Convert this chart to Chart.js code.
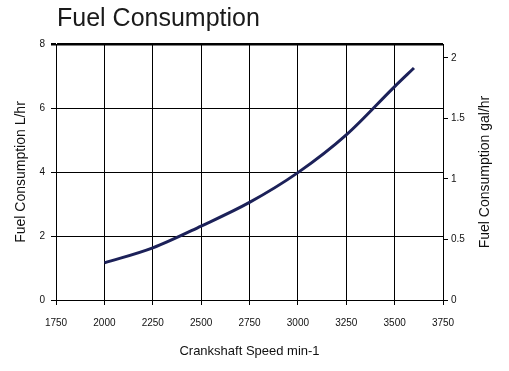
<!DOCTYPE html>
<html>
<head>
<meta charset="utf-8">
<script src="https://cdn.jsdelivr.net/npm/chart.js@4/dist/chart.umd.min.js"></script>
<style>
html, body { margin: 0; padding: 0; background: #fff; }
</style>
</head>
<body>
<canvas id="myChart" width="509" height="371"></canvas>
<script>
// values
var speed = [2000, 2250, 2500, 2750, 3000, 3250, 3500, 3600];
var litres = [1.16, 1.63, 2.31, 3.05, 3.98, 5.16, 6.67, 7.25];
var speedTicks = [1750, 2000, 2250, 2500, 2750, 3000, 3250, 3500, 3750];
var litreTicks = [0, 2, 4, 6, 8];
var gallonTicks = [0, 0.5, 1, 1.5, 2];
var litresPerGallon = 3.785;

var sans = '"Liberation Sans", Arial, sans-serif';

var points = [];
for (var i = 0; i < speed.length; i++) {
  points.push({ x: speed[i], y: litres[i] });
}

function plain(v) { return String(v); }

// big title top-left and the right axis title (reads bottom to top like the left one)
var textPlugin = {
  id: 'extraText',
  afterDraw: function (chart) {
    var c = chart.ctx;
    var a = chart.chartArea;
    c.save();
    c.font = '25px ' + sans;
    c.fillStyle = '#1a1a1a';
    c.textBaseline = 'alphabetic';
    c.textAlign = 'left';
    c.fillText('Fuel Consumption', a.left + 1, 26);

    c.font = '14px ' + sans;
    c.fillStyle = '#111';
    c.textAlign = 'center';
    c.textBaseline = 'middle';
    c.translate(chart.scales.y2.right - 24, (a.top + a.bottom) / 2);
    c.rotate(-Math.PI / 2);
    c.fillText('Fuel Consumption gal/hr', 0, 0);
    c.restore();
  }
};

var ctx = document.getElementById("myChart");
var myLineChart = new Chart(ctx, {
  type: 'line',
  data: {
    datasets: [{
      label: 'Fuel Consumption',
      data: points,
      borderColor: '#1c2159',
      borderWidth: 3,
      fill: false,
      pointRadius: 0,
      cubicInterpolationMode: 'monotone',
      yAxisID: 'y'
    }]
  },
  options: {
    responsive: false,
    animation: false,
    layout: { padding: { top: 44, right: 0, bottom: 0, left: 0 } },
    plugins: {
      legend: { display: false },
      tooltip: { enabled: false }
    },
    scales: {
      x: {
        type: 'linear',
        min: 1750,
        max: 3750,
        afterBuildTicks: function (s) { s.ticks = speedTicks.map(function (v) { return { value: v }; }); },
        afterFit: function (s) { s.height = 71; },
        grid: { color: '#000', lineWidth: 1, tickLength: 5 },
        border: { color: '#000', width: 1 },
        ticks: { color: '#111', font: { family: sans, size: 10 }, padding: 12, maxRotation: 0, callback: plain },
        title: { display: true, text: 'Crankshaft Speed min-1', color: '#111', font: { family: sans, size: 13 }, padding: { top: 0, bottom: 12 } }
      },
      y: {
        position: 'left',
        min: 0,
        max: 8,
        afterBuildTicks: function (s) { s.ticks = litreTicks.map(function (v) { return { value: v }; }); },
        afterFit: function (s) { s.width = 56; },
        grid: {
          color: '#000',
          tickLength: 5,
          lineWidth: function (c) { return c.tick && c.tick.value === 8 ? 2.5 : 1; }
        },
        border: { color: '#000', width: 1 },
        ticks: { color: '#111', font: { family: sans, size: 10 }, padding: 6, callback: plain },
        title: { display: true, text: 'Fuel Consumption L/hr', color: '#111', font: { family: sans, size: 14 }, padding: { top: 13 } }
      },
      y2: {
        position: 'right',
        min: 0,
        max: 8 / litresPerGallon,
        afterBuildTicks: function (s) { s.ticks = gallonTicks.map(function (v) { return { value: v }; }); },
        afterFit: function (s) { s.width = 66; },
        grid: { drawOnChartArea: false, color: '#000', tickLength: 5 },
        border: { color: '#000', width: 1 },
        ticks: { color: '#111', font: { family: sans, size: 10 }, padding: 3, callback: plain }
      }
    }
  },
  plugins: [textPlugin]
});
</script>
</body>
</html>
